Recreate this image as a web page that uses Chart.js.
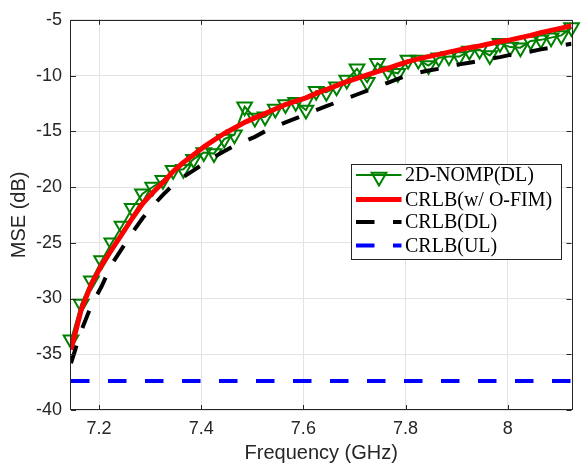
<!DOCTYPE html>
<html><head><meta charset="utf-8">
<script src="https://cdn.jsdelivr.net/npm/chart.js@4.4.1/dist/chart.umd.min.js"></script>
<style>html,body{margin:0;padding:0;background:#fff;overflow:hidden;}</style>
</head><body>
<canvas id="c" width="582" height="463" style="width:582px;height:463px;display:block"></canvas>
<script>
// ---------- data ----------
const FREQ = [7.145,7.165,7.185,7.205,7.225,7.245,7.265,7.285,7.305,7.325,
              7.345,7.365,7.385,7.405,7.425,7.445,7.465,7.485,7.505,7.525,
              7.545,7.565,7.585,7.605,7.625,7.645,7.665,7.685,7.705,7.725,
              7.745,7.765,7.785,7.805,7.825,7.845,7.865,7.885,7.905,7.925,
              7.945,7.965,7.985,8.005,8.025,8.045,8.065,8.085,8.105,8.125];
const NOMP_DL = [-33.7,-30.5,-28.4,-26.6,-25.0,-23.5,-21.9,-20.6,-20.0,-19.4,
                 -18.5,-18.4,-17.5,-16.9,-17.0,-15.7,-15.3,-12.8,-13.8,-13.7,
                 -13.0,-12.6,-12.4,-13.1,-11.4,-11.5,-11.0,-10.4,-9.4,-10.6,
                 -8.9,-9.6,-9.8,-8.6,-8.6,-9.1,-8.4,-8.3,-8.3,-7.8,
                 -7.7,-8.2,-7.1,-7.45,-7.5,-6.9,-6.8,-6.6,-6.4,-5.7];
const CRLB_OFIM = [-34.6,-31.0,-28.7,-27.0,-25.6,-24.2,-22.8,-21.5,-20.5,-19.6,
                   -18.6,-17.8,-17.1,-16.4,-15.8,-15.2,-14.7,-14.2,-13.8,-13.4,
                   -13.0,-12.6,-12.3,-12.0,-11.6,-11.25,-10.9,-10.55,-10.25,-9.95,
                   -9.65,-9.35,-9.05,-8.75,-8.5,-8.3,-8.1,-7.9,-7.7,-7.5,
                   -7.35,-7.15,-6.95,-6.8,-6.6,-6.4,-6.15,-5.95,-5.75,-5.53];
const CRLB_DL = [-35.8,-32.9,-30.6,-28.9,-26.9,-25.5,-24.1,-22.8,-21.7,-20.7,
                 -19.8,-19.1,-18.5,-17.9,-17.3,-16.8,-16.3,-15.9,-15.5,-15.0,
                 -14.6,-14.2,-13.85,-13.5,-13.1,-12.75,-12.4,-12.05,-11.7,-11.35,
                 -11.0,-10.65,-10.3,-9.95,-9.75,-9.55,-9.4,-9.2,-9.0,-8.85,
                 -8.7,-8.5,-8.35,-8.15,-8.0,-7.85,-7.65,-7.5,-7.3,-7.15];
const UL_FREQ = [7.145, 8.125];
const CRLB_UL = [-37.4, -37.4];
const X_TICKS = [7.2, 7.4, 7.6, 7.8, 8.0];
const Y_TICKS = [-40, -35, -30, -25, -20, -15, -10, -5];
const SERIES_LABELS = ['2D-NOMP(DL)', 'CRLB(w/ O-FIM)', 'CRLB(DL)', 'CRLB(UL)'];
const X_TITLE = 'Frequency (GHz)';
const Y_TITLE = 'MSE (dB)';

// ---------- chart ----------
const xy = (xs, ys) => xs.map((x, i) => ({x: x, y: ys[i]}));
const AX = '#262626';
const SANS = '"Liberation Sans", Arial, Helvetica, sans-serif';
const SERIF = '"Liberation Serif", "Times New Roman", serif';
const DASH = [18.5, 18.5];

const datasets = [
  {label: SERIES_LABELS[0], data: xy(FREQ, NOMP_DL), borderColor: '#008000', borderWidth: 2,
   pointStyle: 'triangle', pointRotation: 180, pointRadius: 8.5, pointBorderWidth: 2,
   pointBorderColor: '#008000', pointBackgroundColor: 'rgba(0,0,0,0)', tension: 0, order: 4, clip: false},
  {label: SERIES_LABELS[1], data: xy(FREQ, CRLB_OFIM), borderColor: '#ff0000', borderWidth: 5,
   pointRadius: 0, tension: 0, order: 3, borderCapStyle: 'butt', borderJoinStyle: 'round'},
  {label: SERIES_LABELS[2], data: xy(FREQ, CRLB_DL), borderColor: '#000000', borderWidth: 4,
   borderDash: DASH, pointRadius: 0, tension: 0, order: 2},
  {label: SERIES_LABELS[3], data: xy(UL_FREQ, CRLB_UL), borderColor: '#0000ff', borderWidth: 4,
   borderDash: DASH, pointRadius: 0, tension: 0, order: 1}
];

const framePlugin = {
  id: 'frame',
  afterDatasetsDraw(chart) {
    const {ctx, chartArea: {left, right, top, bottom}, scales: {x, y}} = chart;
    ctx.save();
    ctx.strokeStyle = AX; ctx.lineWidth = 1; ctx.setLineDash([]);
    ctx.beginPath();
    X_TICKS.forEach(v => {
      const px = Math.round(x.getPixelForValue(v)) + 0.5;
      ctx.moveTo(px, bottom); ctx.lineTo(px, bottom - 5);
      ctx.moveTo(px, top); ctx.lineTo(px, top + 5);
    });
    Y_TICKS.forEach(v => {
      const py = Math.round(y.getPixelForValue(v)) + 0.5;
      ctx.moveTo(left, py); ctx.lineTo(left + 5, py);
      ctx.moveTo(right, py); ctx.lineTo(right - 5, py);
    });
    ctx.stroke();
    ctx.strokeRect(Math.round(left) - 0.5, Math.round(top) + 0.5,
                   Math.round(right) - Math.round(left) + 1, Math.round(bottom) - Math.round(top) - 1);
    ctx.restore();
  },
  afterDraw(chart) {
    const {ctx} = chart;
    const bx = 351.5, by = 164.5, bw = 210, bh = 95;
    ctx.save();
    ctx.fillStyle = '#ffffff';
    ctx.fillRect(bx, by, bw, bh);
    ctx.strokeStyle = AX; ctx.lineWidth = 1; ctx.setLineDash([]);
    ctx.strokeRect(bx, by, bw, bh);
    const rows = [175, 199.5, 222, 245.5];
    const x0 = 356, x1 = 401.5;
    chart.data.datasets.forEach((ds, i) => {
      const yy = rows[i];
      ctx.save();
      ctx.beginPath();
      ctx.rect(x0, yy - 10, x1 - x0, 20);
      ctx.clip();
      ctx.strokeStyle = ds.borderColor;
      ctx.lineWidth = ds.borderWidth;
      ctx.setLineDash(ds.borderDash || []);
      ctx.beginPath(); ctx.moveTo(x0, yy); ctx.lineTo(x1 + 20, yy); ctx.stroke();
      ctx.restore();
      if (ds.pointStyle === 'triangle') {
        const cx = 379, cy = yy + 2, r = 8.5;
        ctx.setLineDash([]);
        ctx.strokeStyle = ds.pointBorderColor; ctx.lineWidth = 2;
        ctx.beginPath();
        ctx.moveTo(cx, cy + r);
        ctx.lineTo(cx - r * Math.sin(Math.PI / 3), cy - r / 2);
        ctx.lineTo(cx + r * Math.sin(Math.PI / 3), cy - r / 2);
        ctx.closePath(); ctx.stroke();
      }
      ctx.fillStyle = '#000000';
      ctx.font = '20px ' + SERIF;
      ctx.textBaseline = 'middle';
      ctx.textAlign = 'left';
      ctx.fillText(ds.label, 405, yy + 1);
    });
    ctx.restore();
  }
};

new Chart(document.getElementById('c'), {
  type: 'line',
  data: {datasets: datasets},
  options: {
    responsive: false,
    animation: false,
    devicePixelRatio: 1,
    events: [],
    layout: {padding: {left: 0, right: 9, top: 14, bottom: 0}},
    plugins: {legend: {display: false}, tooltip: {enabled: false}},
    scales: {
      x: {
        type: 'linear', min: 7.145, max: 8.125,
        afterBuildTicks: s => { s.ticks = X_TICKS.map(v => ({value: v})); },
        afterFit: s => { s.height = 53; },
        grid: {color: '#e3e3e3', drawTicks: false},
        border: {display: false},
        ticks: {color: AX, font: {family: SANS, size: 18}, padding: 8, maxRotation: 0,
                callback: v => String(Number(v.toFixed(1)))},
        title: {display: true, text: X_TITLE, color: AX, font: {family: SANS, size: 20, lineHeight: 1},
                padding: {top: 0, bottom: 0}}
      },
      y: {
        type: 'linear', min: -40, max: -5,
        afterBuildTicks: s => { s.ticks = Y_TICKS.map(v => ({value: v})); },
        afterFit: s => { s.width = 71; },
        grid: {color: '#e3e3e3', drawTicks: false},
        border: {display: false},
        ticks: {color: AX, font: {family: SANS, size: 18}, padding: 9},
        title: {display: true, text: Y_TITLE, color: AX, font: {family: SANS, size: 20, lineHeight: 1},
                padding: {top: 9, bottom: 0}}
      }
    }
  },
  plugins: [framePlugin]
});
</script>
</body></html>
